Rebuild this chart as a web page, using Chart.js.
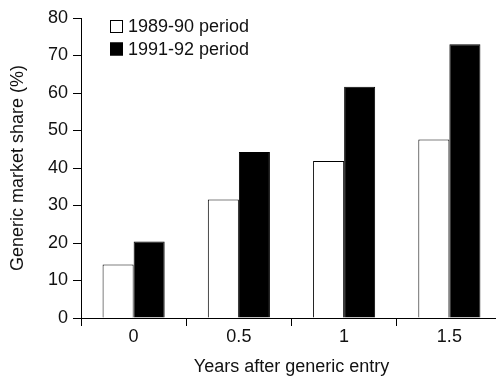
<!DOCTYPE html>
<html>
<head>
<meta charset="utf-8">
<script src="https://cdn.jsdelivr.net/npm/chart.js@4/dist/chart.umd.min.js"></script>
<style>
  html, body { margin: 0; padding: 0; background: #fff; overflow: hidden; width: 496px; height: 381px; }
  #wrap { position: absolute; left: 0; top: 0; width: 503px; height: 381px; }
</style>
</head>
<body>
<div id="wrap"><canvas id="c" width="503" height="381"></canvas></div>
<script>
const categories = ['0', '0.5', '1', '1.5'];
const period1989 = [14.3, 31.6, 41.9, 47.6];
const period1991 = [20.4, 44.3, 61.7, 73.0];
const seriesLabels = ['1989-90 period', '1991-92 period'];
const yTicks = [0, 10, 20, 30, 40, 50, 60, 70, 80];
const xTitle = 'Years after generic entry';
const yTitle = 'Generic market share (%)';

const FONT = '"Liberation Sans", Arial, Helvetica, sans-serif';
const INK = '#111';

const legendPlugin = {
  id: 'boxLegend',
  afterDraw(chart) {
    const ctx = chart.ctx;
    ctx.save();
    ctx.font = '18px ' + FONT;
    ctx.textBaseline = 'middle';
    ctx.textAlign = 'left';
    const rows = [26.5, 49];
    chart.data.datasets.forEach((ds, i) => {
      const cy = rows[i];
      const bx = 110, bs = 13;
      ctx.fillStyle = ds.backgroundColor;
      ctx.fillRect(bx, cy - bs / 2, bs, bs);
      ctx.strokeStyle = '#000';
      ctx.lineWidth = 1;
      ctx.strokeRect(bx + 0.5, cy - bs / 2 + 0.5, bs - 1, bs - 1);
      ctx.fillStyle = INK;
      ctx.fillText(ds.label, 128, cy + 1);
    });
    ctx.restore();
  }
};

new Chart(document.getElementById('c'), {
  type: 'bar',
  data: {
    labels: categories,
    datasets: [
      { label: seriesLabels[0], data: period1989, backgroundColor: '#ffffff', borderColor: '#000', borderWidth: 1,
        categoryPercentage: 0.59, barPercentage: 1.0 },
      { label: seriesLabels[1], data: period1991, backgroundColor: '#000000', borderColor: '#000', borderWidth: 1,
        categoryPercentage: 0.59, barPercentage: 1.0 }
    ]
  },
  options: {
    responsive: false,
    animation: false,
    devicePixelRatio: 1,
    layout: { padding: { top: 18, right: 1, left: 0, bottom: 0 } },
    plugins: { legend: { display: false }, tooltip: { enabled: false } },
    scales: {
      x: {
        grid: { offset: true, drawOnChartArea: false, drawTicks: true, tickLength: 8, color: '#000', lineWidth: 1 },
        border: { display: true, color: '#000', width: 1 },
        ticks: { color: INK, font: { family: FONT, size: 18 }, padding: 0, maxRotation: 0 },
        title: { display: true, text: xTitle, color: INK, font: { family: FONT, size: 18 }, padding: { top: 0, bottom: 3 } },
        afterFit(scale) { scale.height = 63; }
      },
      y: {
        min: 0, max: 80,
        afterBuildTicks(scale) { scale.ticks = yTicks.map(v => ({ value: v })); },
        grid: { drawOnChartArea: false, drawTicks: true, tickLength: 8, color: '#000', lineWidth: 1 },
        border: { display: true, color: '#000', width: 1 },
        ticks: { color: INK, font: { family: FONT, size: 18 }, padding: 5 },
        title: { display: true, text: yTitle, color: INK, font: { family: FONT, size: 18 }, padding: { top: 7, bottom: 0 } },
        afterFit(scale) { scale.width = 81; }
      }
    }
  },
  plugins: [legendPlugin]
});
</script>
</body>
</html>
